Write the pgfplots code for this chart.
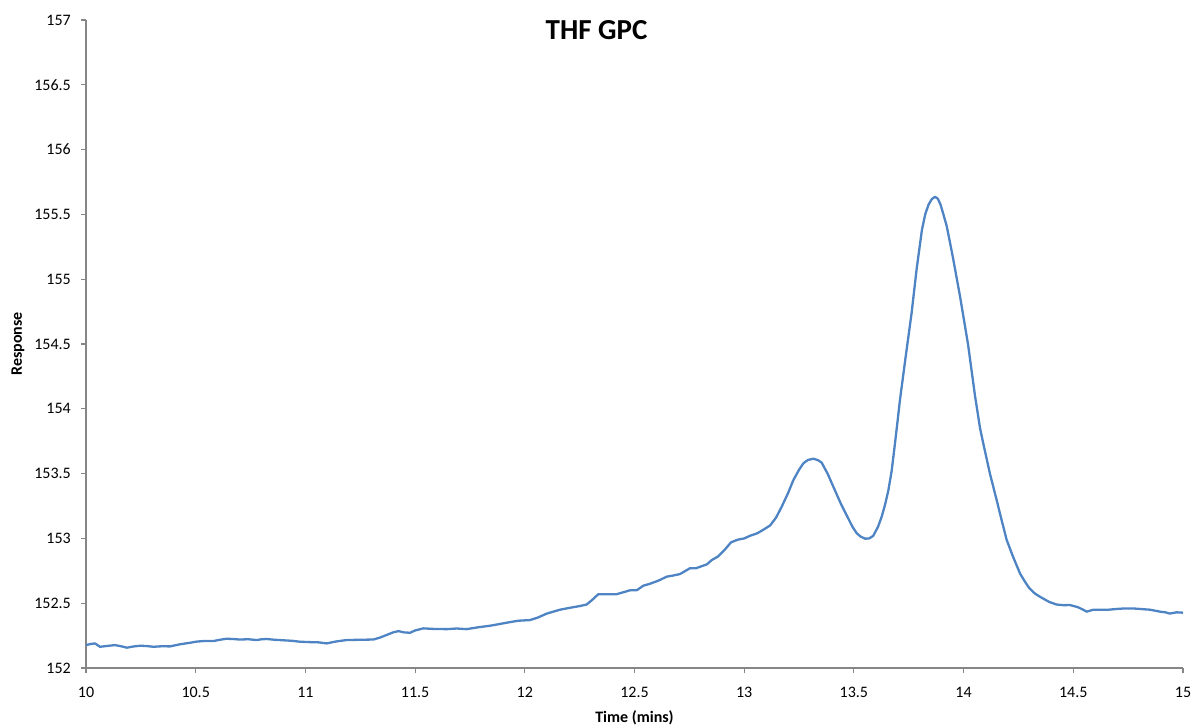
\documentclass[border=0pt]{standalone}
\usepackage{fontspec}
\setmainfont{Carlito}
\usepackage{pgfplots}
\pgfplotsset{compat=1.18}
\definecolor{axgray}{RGB}{134,134,134}
\definecolor{serblue}{RGB}{78,132,196}
\begin{document}
\begin{tikzpicture}
\begin{axis}[
  name=ax,
  scale only axis,
  width=1097bp, height=648bp,
  xmin=10, xmax=15, ymin=152, ymax=157,
  xtick={10,10.5,11,11.5,12,12.5,13,13.5,14,14.5,15},
  ytick={152,152.5,153,153.5,154,154.5,155,155.5,156,156.5,157},
  axis x line*=bottom, axis y line*=left,
  axis line style={draw=axgray, line width=1.1bp, -},
  tick style={draw=axgray, line width=1.1bp},
  major tick length=5bp,
  tick align=outside,
  /pgf/number format/assume math mode=true,
  /pgf/number format/fixed,
  tick label style={font=\fontsize{16bp}{19bp}\selectfont, inner sep=0pt},
  xticklabel style={anchor=north, yshift=-14bp},
  yticklabel style={anchor=east, xshift=-10bp},
  title={THF GPC},
  title style={font=\fontsize{29bp}{34bp}\selectfont\bfseries, at={(axis description cs:0.4654,0.975)}, anchor=center},
  xlabel={Time (mins)},
  xlabel style={font=\fontsize{16bp}{19bp}\selectfont\bfseries, at={(axis description cs:0.5,-0.0835)}, anchor=base},
  ylabel={Response},
  ylabel style={font=\fontsize{16bp}{19bp}\selectfont\bfseries, at={(axis description cs:-0.062,0.5)}, anchor=center},
]
\addplot[serblue, line width=2.3bp, line join=round, no markers] table {
x y
10.000 152.177
10.020 152.185
10.041 152.19
10.064 152.164
10.094 152.17
10.132 152.177
10.160 152.168
10.186 152.157
10.215 152.166
10.246 152.172
10.275 152.170
10.307 152.164
10.345 152.168
10.383 152.167
10.428 152.183
10.474 152.195
10.505 152.204
10.535 152.208
10.58 152.208
10.61 152.218
10.641 152.226
10.67 152.224
10.70 152.22
10.74 152.222
10.778 152.216
10.80 152.222
10.824 152.224
10.86 152.218
10.90 152.214
10.94 152.21
10.975 152.203
11.02 152.2
11.06 152.198
11.097 152.19
11.14 152.205
11.188 152.216
11.25 152.218
11.31 152.22
11.34 152.235
11.37 152.255
11.40 152.275
11.424 152.285
11.45 152.275
11.477 152.272
11.50 152.29
11.537 152.306
11.58 152.302
11.644 152.30
11.69 152.305
11.735 152.30
11.79 152.315
11.84 152.326
11.88 152.338
11.918 152.35
11.97 152.365
12.024 152.37
12.06 152.39
12.10 152.42
12.13 152.435
12.16 152.45
12.206 152.465
12.25 152.478
12.282 152.49
12.31 152.53
12.335 152.57
12.38 152.57
12.419 152.57
12.45 152.585
12.48 152.60
12.51 152.60
12.54 152.635
12.57 152.65
12.61 152.675
12.647 152.705
12.68 152.715
12.707 152.725
12.753 152.77
12.78 152.77
12.83 152.80
12.852 152.833
12.88 152.86
12.91 152.91
12.94 152.97
12.97 152.99
13.0 153.0
13.026 153.02
13.06 153.04
13.09 153.07
13.118 153.10
13.145 153.16
13.171 153.245
13.2 153.35
13.224 153.45
13.25 153.53
13.27 153.58
13.29 153.605
13.315 153.615
13.335 153.605
13.353 153.585
13.38 153.50
13.406 153.40
13.44 153.27
13.474 153.155
13.495 153.085
13.513 153.04
13.53 153.015
13.551 152.998
13.57 153.0
13.588 153.02
13.61 153.09
13.627 153.17
13.642 153.26
13.657 153.37
13.672 153.52
13.687 153.73
13.70 153.92
13.71 154.07
13.735 154.39
13.763 154.74
13.786 155.08
13.81 155.38
13.825 155.50
13.84 155.575
13.855 155.618
13.87 155.636
13.883 155.62
13.895 155.575
13.908 155.50
13.923 155.41
13.95 155.18
13.984 154.865
14.02 154.5
14.052 154.1
14.075 153.85
14.09 153.73
14.12 153.5
14.15 153.30
14.175 153.13
14.196 152.99
14.225 152.86
14.257 152.73
14.28 152.665
14.30 152.615
14.325 152.575
14.348 152.55
14.39 152.51
14.424 152.49
14.455 152.485
14.485 152.486
14.52 152.47
14.545 152.45
14.561 152.435
14.591 152.45
14.62 152.45
14.66 152.45
14.70 152.456
14.735 152.46
14.77 152.46
14.81 152.455
14.85 152.45
14.895 152.435
14.92 152.43
14.94 152.42
14.97 152.43
15.0 152.427
};
\end{axis}
\pgfresetboundingbox
\path[use as bounding box] ([xshift=-86bp,yshift=-56bp]ax.south west) rectangle ([xshift=10bp,yshift=20bp]ax.north east);
\end{tikzpicture}
\end{document}
